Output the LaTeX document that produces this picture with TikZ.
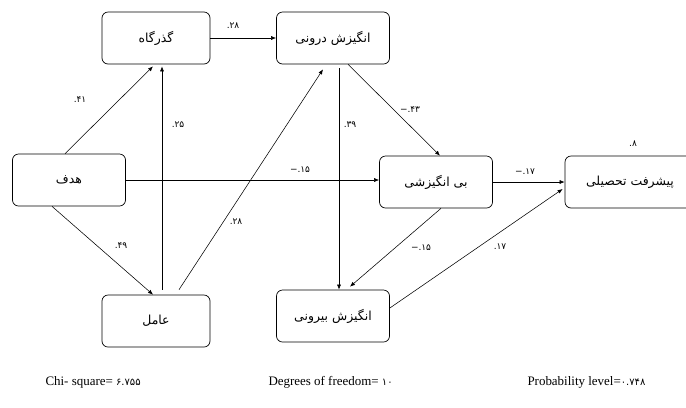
\documentclass[tikz,border=0pt]{standalone}
\usepackage{fontspec}
\setmainfont{Liberation Serif}
\newfontfamily\arabicfont[Script=Arabic]{DejaVu Sans}
\newfontfamily\digitfont{DejaVu Sans}
\TeXXeTstate=1
\usetikzlibrary{arrows.meta}
\newcommand{\fa}[1]{{\arabicfont\beginR #1\endR}}

\begin{document}
\begin{tikzpicture}[x=1bp, y=-1bp,
  var/.style={draw, rounded corners=6bp, line width=0.7pt, minimum width=113bp, minimum height=52bp,
    font=\arabicfont\fontsize{12.5}{14}\selectfont},
  path/.style={-{Latex[length=5bp,width=4bp]}, line width=0.55pt},
  coef/.style={font=\digitfont\fontsize{9}{11}\selectfont},
  stat/.style={anchor=west, font=\fontsize{13}{15}\selectfont}]
  \useasboundingbox (0,0) rectangle (686,407);
  % variables
  \node[var, minimum width=108bp] (gate) at (156,38) {\fa{گذرگاه}};
  \node[var] (intrinsic) at (333,38) {\fa{انگیزش درونی}};
  \node[var] (goal) at (69,180) {\fa{هدف}};
  \node[var] (amotiv) at (436,182) {\fa{بی انگیزشی}};
  \node[var, minimum width=130bp] (achieve) at (630,182) {\fa{پیشرفت تحصیلی}};
  \node[var, minimum width=108bp] (factor) at (156,321) {\fa{عامل}};
  \node[var] (extrinsic) at (333,316) {\fa{انگیزش بیرونی}};
  % paths
  \draw[path] ([xshift=-4bp]goal.north) -- ([xshift=-3bp,yshift=-2bp]gate.south);
  \draw[path] ([xshift=6bp,yshift=5bp]factor.north) -- ([xshift=6bp,yshift=-2bp]gate.south);
  \draw[path] (gate.east) -- (intrinsic.west);
  \draw[path] ([xshift=23bp,yshift=5bp]factor.north) -- ([xshift=-10bp,yshift=-5bp]intrinsic.south);
  \draw[path] ([xshift=-17bp]goal.south) -- ([xshift=-3bp]factor.north);
  \draw[path] (goal.east) -- (goal.east -| amotiv.west);
  \draw[path] ([xshift=15bp]intrinsic.south) -- ([xshift=4bp]amotiv.north);
  \draw[path] ([xshift=6bp,yshift=-4bp]intrinsic.south) -- ([xshift=6bp]extrinsic.north);
  \draw[path] ([xshift=5bp]amotiv.south) -- ([xshift=17bp,yshift=3bp]extrinsic.north);
  \draw[path] ([yshift=8bp]extrinsic.east) -- ([xshift=-2bp,yshift=-7bp]achieve.west);
  \draw[path] (amotiv.east) -- (achieve.west);
  % coefficients
  \node[coef] (c1) at (80,100) {.۴۱};
  \node[coef] (c2) at (178,125) {.۲۵};
  \node[coef] (c3) at (233,26) {.۲۸};
  \node[coef] (c4) at (236,222) {.۲۸};
  \node[coef] (c5) at (121,246) {.۴۹};
  \node[coef] (c6) at (300,170) {−.۱۵};
  \node[coef] (c7) at (410,110) {−.۴۳};
  \node[coef] (c8) at (350,125) {.۳۹};
  \node[coef] (c9) at (421,248) {−.۱۵};
  \node[coef] (c10) at (500,247) {.۱۷};
  \node[coef] (c11) at (525,172) {−.۱۷};
  \node[coef] (c12) at (633,144) {.۸};
  % fit
  \node[stat] (chi) at (42,382) {Chi- square= {\digitfont\fontsize{10}{12}\selectfont ۶.۷۵۵}};
  \node[stat] (df) at (265,382) {Degrees of freedom= {\digitfont\fontsize{10}{12}\selectfont ۱۰}};
  \node[stat] (prob) at (524,382) {Probability level={\digitfont\fontsize{10}{12}\selectfont ۰.۷۴۸}};
\end{tikzpicture}
\end{document}
